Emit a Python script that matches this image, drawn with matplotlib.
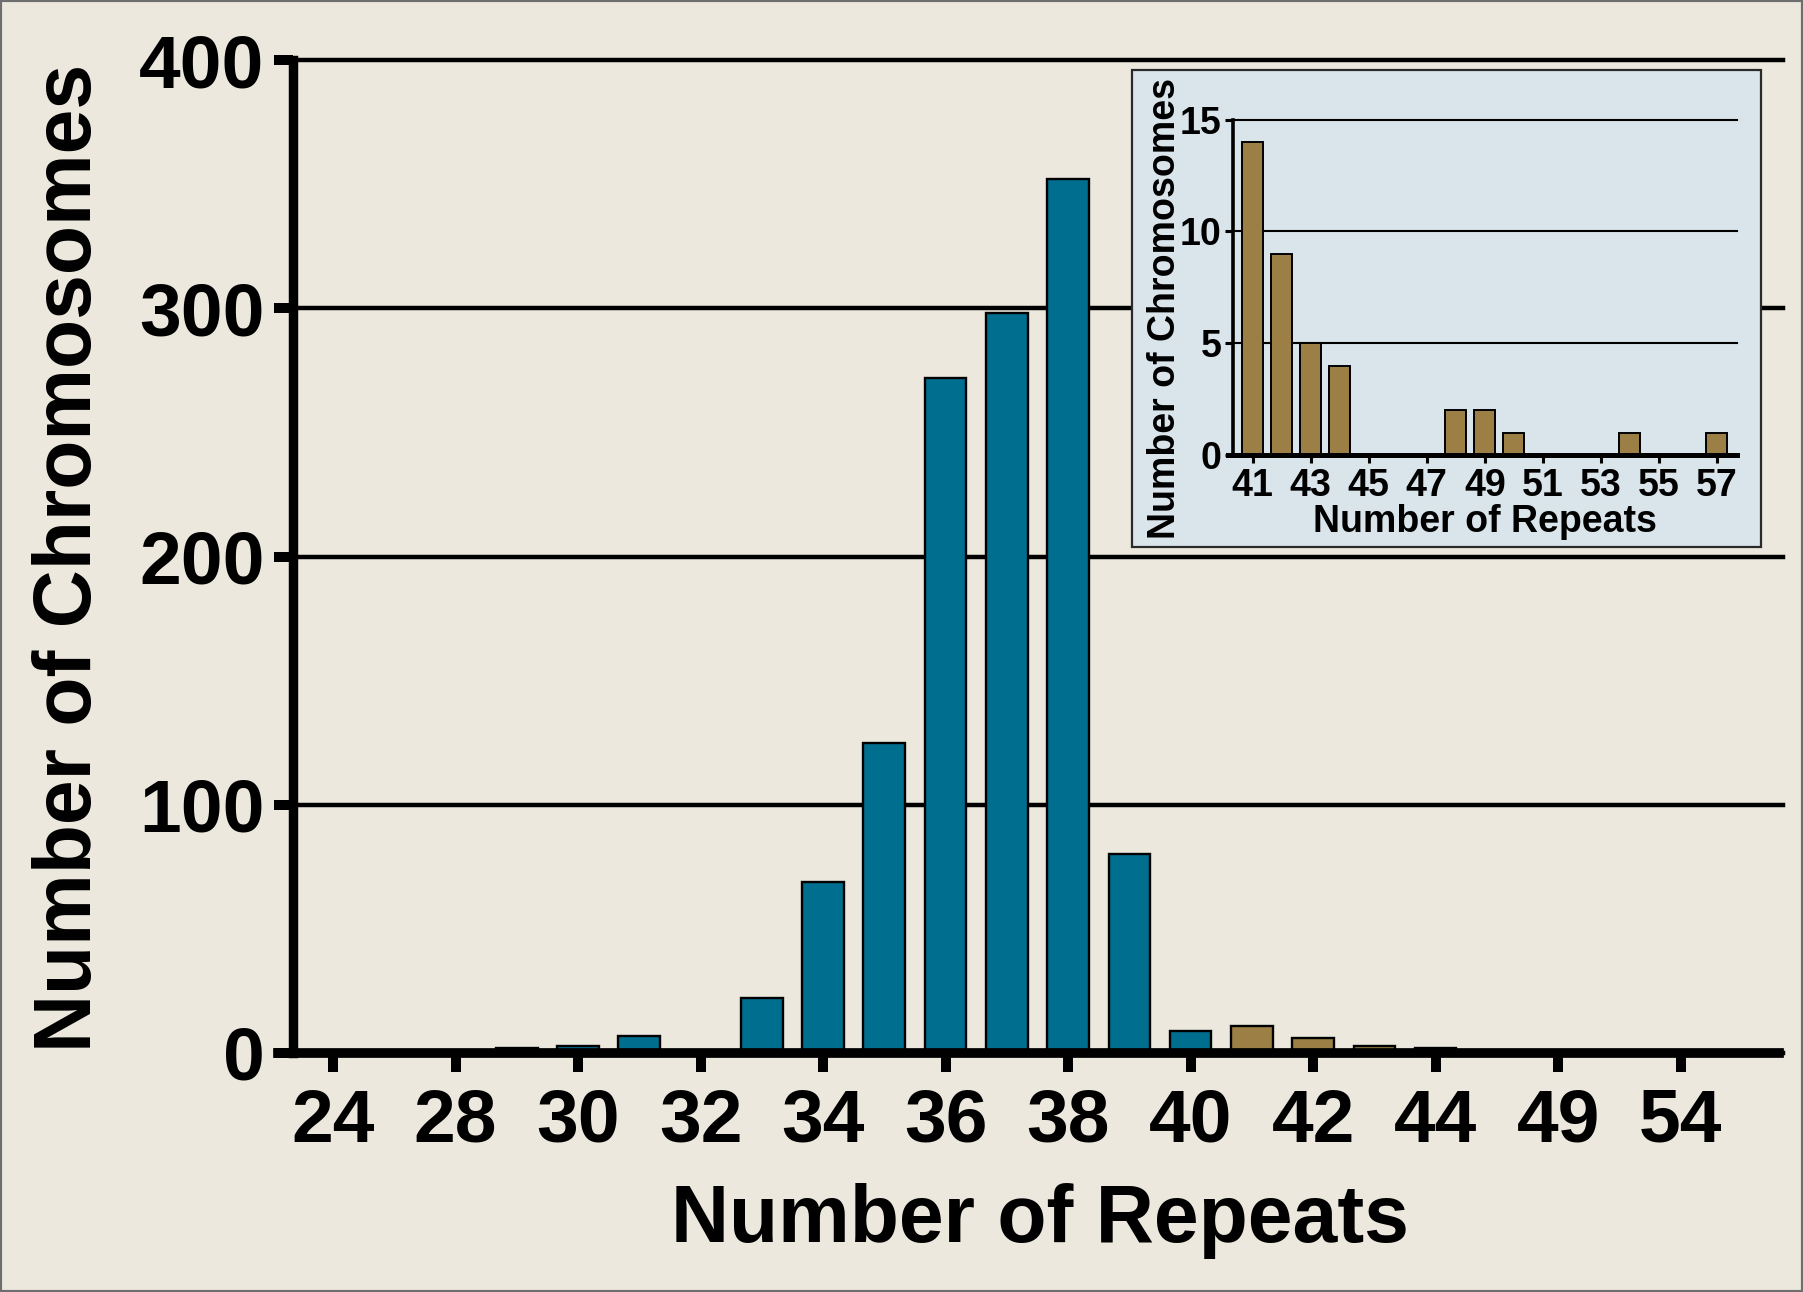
import numpy as np
import matplotlib
matplotlib.use("Agg")
import matplotlib.pyplot as plt
from matplotlib.patches import Rectangle

# ---------------- data ----------------
main_cats = ['24', '26', '28', '29', '30', '31', '32', '33', '34', '35', '36', '37',
             '38', '39', '40', '41', '42', '43', '44', '48', '49', '50', '54', '57']
main_vals = [0, 0, 0, 2, 3, 7, 0, 22, 69, 125, 272, 298,
             352, 80, 9, 11, 6, 3, 2, 0, 0, 0, 0, 0]
main_groups = ['blue'] * 15 + ['gold'] * 9

inset_x = [41, 42, 43, 44, 48, 49, 50, 54, 57]
inset_vals = [14, 9, 5, 4, 2, 2, 1, 1, 1]
inset_ticks = [41, 43, 45, 47, 49, 51, 53, 55, 57]

main_yticks = [0, 100, 200, 300, 400]
inset_yticks = [0, 5, 10, 15]

# ---------------- style ----------------
BG = '#ECE8DE'
BLUE = '#006F8F'
GOLD = '#9B7F44'
INSET_BG = '#D9E4EB'
color_map = {'blue': BLUE, 'gold': GOLD}

plt.rcParams['font.family'] = ['Liberation Sans', 'DejaVu Sans']
plt.rcParams['font.weight'] = 'bold'

W, H = 1803, 1292
fig = plt.figure(figsize=(W / 100, H / 100), dpi=100, facecolor=BG)

# ---------------- main axes ----------------
ax = fig.add_axes([292.5 / W, 1 - 1053 / H, 1490.5 / W, 993 / H])
ax.set_facecolor('none')
x = np.arange(len(main_cats))
ax.bar(x, main_vals, width=0.68, color=[color_map[g] for g in main_groups],
       edgecolor='black', linewidth=1.7, zorder=2)
ax.set_xlim(-0.661, 23.67)
ax.set_ylim(0, 400)
ax.set_xticks(x[::2])
ax.set_xticklabels(main_cats[::2])
ax.set_yticks(main_yticks)
for s in ['top', 'right']:
    ax.spines[s].set_visible(False)
ax.spines['left'].set_linewidth(6.8)
ax.spines['bottom'].set_linewidth(7.0)
ax.spines['bottom'].set_bounds(-0.90, 23.61)
ax.spines['left'].set_zorder(3)
ax.spines['bottom'].set_zorder(3)
ax.tick_params(axis='both', direction='out', length=14, width=7.2, color='black',
               labelsize=54)
ax.tick_params(axis='x', pad=11)
ax.tick_params(axis='y', pad=6)
ax.yaxis.grid(True, color='black', linewidth=3.2)
ax.set_axisbelow(True)
for gl in ax.get_ygridlines():
    gl.set_clip_on(False)

fig.text(32 / W, 1 - 557.5 / H, 'Number of Chromosomes', rotation=90,
         ha='left', va='center', fontsize=58, fontweight='bold')
fig.text(1039.7 / W, 1 - 1242 / H, 'Number of Repeats',
         ha='center', va='baseline', fontsize=58, fontweight='bold')

# ---------------- inset box ----------------
box = Rectangle((1131.5 / W, 1 - 546.7 / H), (1761.4 - 1131.5) / W,
                (546.7 - 69.5) / H, transform=fig.transFigure,
                facecolor=INSET_BG, edgecolor='#2a2a2a', linewidth=1.6, zorder=1)
fig.add_artist(box)

# ---------------- inset axes ----------------
axi = fig.add_axes([1233 / W, 1 - 455 / H, 503.8 / W, 335.5 / H], zorder=2)
axi.set_facecolor('none')
axi.bar(inset_x, inset_vals, width=0.72, color=GOLD, edgecolor='black',
        linewidth=1.4, zorder=2)
axi.set_xlim(40.317, 57.69)
axi.set_ylim(0, 15)
axi.set_xticks(inset_ticks)
axi.set_yticks(inset_yticks)
for s in ['top', 'right']:
    axi.spines[s].set_visible(False)
axi.spines['left'].set_linewidth(2.6)
axi.spines['bottom'].set_linewidth(3.6)
axi.spines['bottom'].set_bounds(40.15, 57.69)
axi.spines['left'].set_zorder(3)
axi.spines['bottom'].set_zorder(3)
axi.tick_params(axis='both', direction='out', length=5.5, width=2.2, color='black',
                labelsize=27)
axi.tick_params(axis='x', pad=4)
axi.tick_params(axis='y', pad=3)
axi.yaxis.grid(True, color='black', linewidth=1.5)
axi.set_axisbelow(True)
for gl in axi.get_ygridlines():
    gl.set_clip_on(False)

fig.text(1147 / W, 1 - 308.5 / H, 'Number of Chromosomes', rotation=90,
         ha='left', va='center', fontsize=27, fontweight='bold')
fig.text(1485 / W, 1 - 531.7 / H, 'Number of Repeats',
         ha='center', va='baseline', fontsize=27, fontweight='bold')

# ---------------- figure border ----------------
border = Rectangle((0, 0), 1, 1, transform=fig.transFigure, fill=False,
                   edgecolor='#6e6e6e', linewidth=3.0, zorder=5)
fig.add_artist(border)

fig.savefig('out.png', dpi=100, facecolor=BG)
